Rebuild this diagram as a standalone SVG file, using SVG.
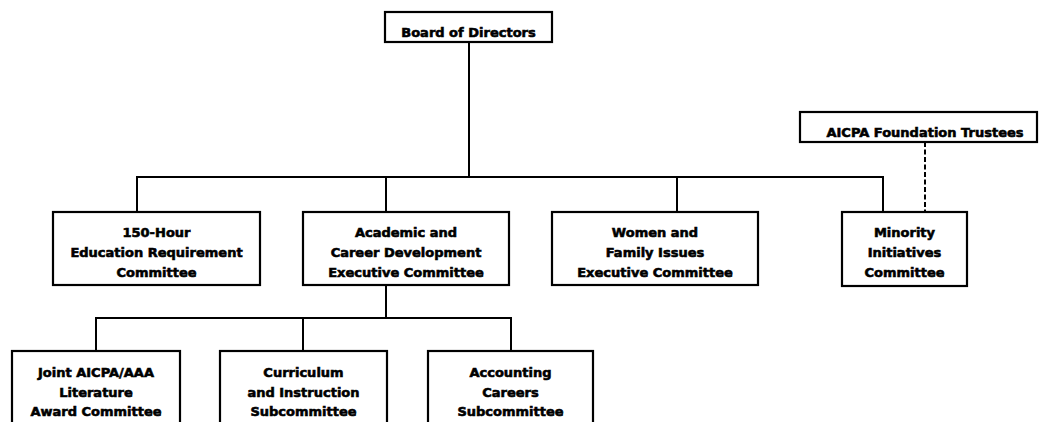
<svg xmlns="http://www.w3.org/2000/svg" width="1041" height="422" viewBox="0 0 1041 422">
  <style>
    .box { fill: #ffffff; stroke: #000000; stroke-width: 2.2; }
    .line { fill: none; stroke: #000000; stroke-width: 2; }
    .dash { fill: none; stroke: #000000; stroke-width: 2; stroke-dasharray: 5 2.5; }
    text { font-family: "DejaVu Sans", "Liberation Sans", sans-serif; font-weight: bold; font-size: 13px; fill: #000000; stroke: #000000; stroke-width: 0.6; text-anchor: middle; }
  </style>
  <rect width="1041" height="422" fill="#ffffff"/>
  <g id="connectors">
    <path class="line" d="M469 42 V177"/>
    <path class="line" d="M137 212 V177 H883 V212"/>
    <path class="line" d="M386 177 V212"/>
    <path class="line" d="M677 177 V212"/>
    <path class="dash" d="M925 142 V212"/>
    <path class="line" d="M386 285 V318"/>
    <path class="line" d="M96 351 V318 H511 V351"/>
    <path class="line" d="M303 318 V351"/>
  </g>
  <g id="board">
    <rect class="box" x="385" y="12" width="167" height="30"/>
    <text x="468.5" y="37">Board of Directors</text>
  </g>
  <g id="foundation">
    <rect class="box" x="800" y="112" width="237" height="30"/>
    <text x="925" y="137">AICPA Foundation Trustees</text>
  </g>
  <g id="hour150">
    <rect class="box" x="53" y="212" width="207" height="73"/>
    <text x="156.5" y="237">150-Hour</text>
    <text x="156.5" y="257">Education Requirement</text>
    <text x="156.5" y="277">Committee</text>
  </g>
  <g id="academic">
    <rect class="box" x="303" y="212" width="206" height="73"/>
    <text x="406" y="237">Academic and</text>
    <text x="406" y="257">Career Development</text>
    <text x="406" y="277">Executive Committee</text>
  </g>
  <g id="women">
    <rect class="box" x="552" y="212" width="206" height="73"/>
    <text x="655" y="237">Women and</text>
    <text x="655" y="257">Family Issues</text>
    <text x="655" y="277">Executive Committee</text>
  </g>
  <g id="minority">
    <rect class="box" x="842" y="212" width="125" height="74"/>
    <text x="904.5" y="237">Minority</text>
    <text x="904.5" y="257">Initiatives</text>
    <text x="904.5" y="277">Committee</text>
  </g>
  <g id="literature">
    <rect class="box" x="12" y="351" width="168" height="90"/>
    <text x="96" y="377">Joint AICPA/AAA</text>
    <text x="96" y="397">Literature</text>
    <text x="96" y="416">Award Committee</text>
  </g>
  <g id="curriculum">
    <rect class="box" x="220" y="351" width="167" height="90"/>
    <text x="303.5" y="377">Curriculum</text>
    <text x="303.5" y="397">and Instruction</text>
    <text x="303.5" y="416">Subcommittee</text>
  </g>
  <g id="careers">
    <rect class="box" x="428" y="351" width="165" height="90"/>
    <text x="510.5" y="377">Accounting</text>
    <text x="510.5" y="397">Careers</text>
    <text x="510.5" y="416">Subcommittee</text>
  </g>
</svg>
